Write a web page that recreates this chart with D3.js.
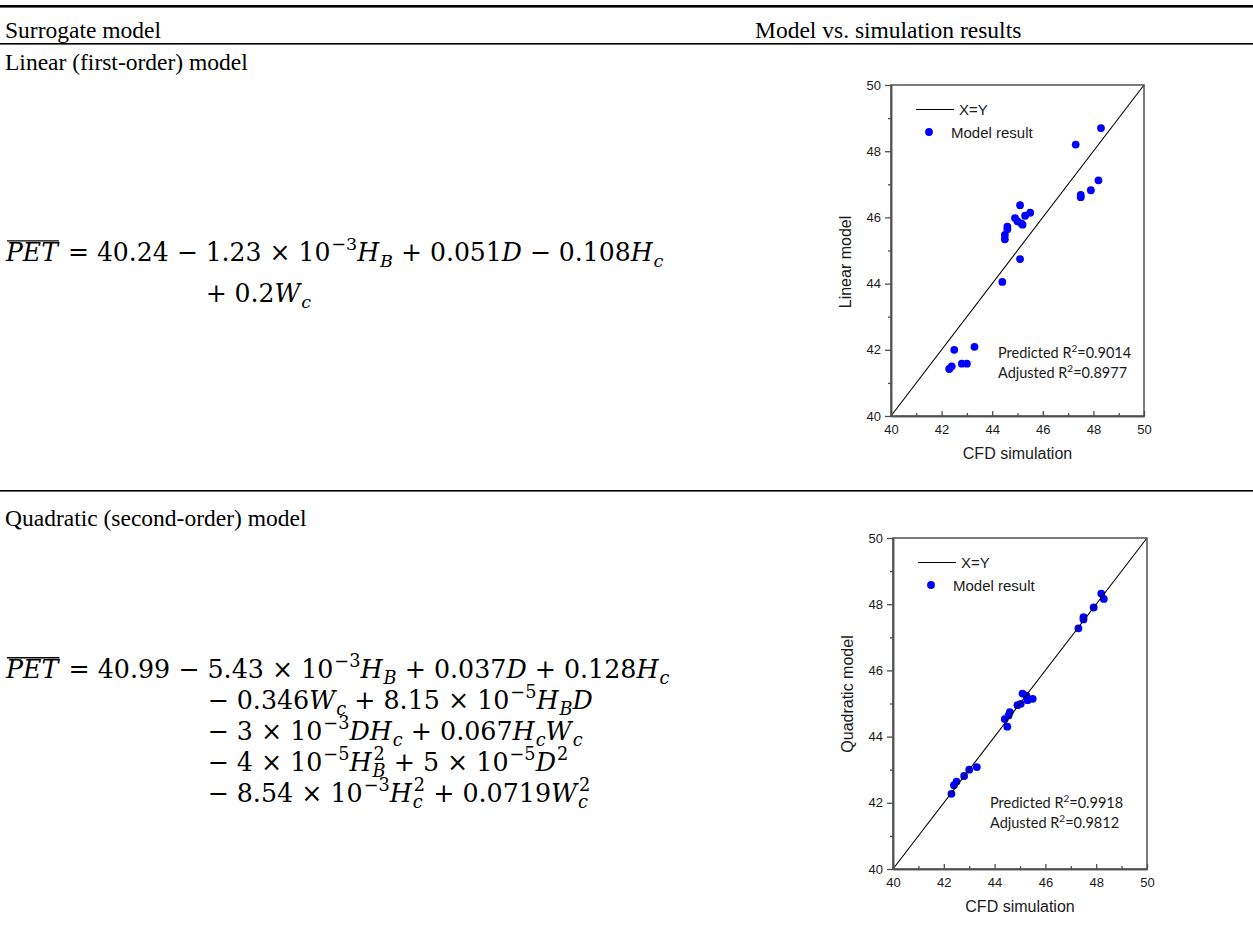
<!DOCTYPE html>
<html>
<head>
<meta charset="utf-8">
<script src="https://cdn.jsdelivr.net/npm/d3@7"></script>
<style>html,body{margin:0;padding:0;background:#fff} text{white-space:pre}</style>
</head>
<body>
<svg id="chart" width="1253" height="948"></svg>
<script>
// ---- data ----
const axisDomain = [40, 50];
const majorTicks = [40, 42, 44, 46, 48, 50];
const minorTicks = [41, 43, 45, 47, 49];

// linear (first-order) model vs CFD
const cfdLinear = [47.3, 48.3, 48.2, 47.9, 47.5, 47.5, 45.1, 45.5, 45.3, 44.9, 45.0, 45.15, 45.2, 44.6, 44.6, 44.5, 44.5, 45.1, 44.4, 43.3, 42.5, 42.8, 43.0, 42.4, 42.3];
const linearModel = [48.2, 48.7, 47.12, 46.82, 46.68, 46.61, 46.37, 46.14, 46.05, 45.98, 45.88, 45.82, 45.78, 45.72, 45.64, 45.47, 45.34, 44.74, 44.05, 42.09, 42.0, 41.58, 41.58, 41.5, 41.42];

// quadratic (second-order) model vs CFD
const cfdQuad = [48.2, 48.3, 47.9, 47.5, 47.5, 47.3, 45.1, 45.25, 45.3, 45.5, 44.9, 45.03, 44.6, 44.55, 44.4, 44.5, 43.3, 43.0, 42.8, 42.5, 42.4, 42.3];
const quadModel = [48.32, 48.16, 47.9, 47.61, 47.54, 47.27, 45.3, 45.24, 45.1, 45.14, 44.95, 44.99, 44.74, 44.64, 44.53, 44.3, 43.08, 43.0, 42.81, 42.64, 42.53, 42.27];

const r2Linear = ["0.9014", "0.8977"];
const r2Quad = ["0.9918", "0.9812"];

// equation terms: [text, kind, stackedSup]; kind "na" marks where wrapped lines align
const eqLinear = [
  [["PET", "bar"], [" = 40.24 − ", "n"], ["1.23 × 10", "na"], ["−3", "sup"], ["H", "i"], ["B", "sub"],
   [" + 0.051", "n"], ["D", "i"], [" − 0.108", "n"], ["H", "i"], ["c", "sub"]],
  [["+ 0.2", "n"], ["W", "i"], ["c", "sub"]]
];
const eqQuad = [
  [["PET", "bar"], [" = 40.99 − ", "n"], ["5.43 × 10", "na"], ["−3", "sup"], ["H", "i"], ["B", "sub"],
   [" + 0.037", "n"], ["D", "i"], [" + 0.128", "n"], ["H", "i"], ["c", "sub"]],
  [["− 0.346", "n"], ["W", "i"], ["c", "sub"], [" + 8.15 × 10", "n"], ["−5", "sup"], ["H", "i"], ["B", "sub"], ["D", "i"]],
  [["− 3 × 10", "n"], ["−3", "sup"], ["DH", "i"], ["c", "sub"], [" + 0.067", "n"], ["H", "i"], ["c", "sub"], ["W", "i"], ["c", "sub"]],
  [["− 4 × 10", "n"], ["−5", "sup"], ["H", "i"], ["B", "sub", "2"], [" + 5 × 10", "n"], ["−5", "sup"], ["D", "i"], ["2", "sup"]],
  [["− 8.54 × 10", "n"], ["−3", "sup"], ["H", "i"], ["c", "sub", "2"], [" + 0.0719", "n"], ["W", "i"], ["c", "sub", "2"]]
];

const svg = d3.select("#chart");
const W = +svg.attr("width");
const serif = "'Liberation Serif', 'Times New Roman', serif";
const mathFont = "'DejaVu Serif', serif";
const sans = "'Liberation Sans', Arial, sans-serif";

// table rules
svg.append("rect").attr("x", 0).attr("y", 5).attr("width", W).attr("height", 2.6).attr("fill", "#000");
svg.append("rect").attr("x", 0).attr("y", 43).attr("width", W).attr("height", 1.6).attr("fill", "#000");
svg.append("rect").attr("x", 0).attr("y", 490).attr("width", W).attr("height", 1.6).attr("fill", "#000");

// table text
const cell = (x, y, t) => svg.append("text").attr("x", x).attr("y", y)
  .attr("font-family", serif).attr("font-size", 23.5).attr("fill", "#000").text(t);
cell(5, 38, "Surrogate model");
cell(755, 38, "Model vs. simulation results");
cell(5, 70, "Linear (first-order) model");
cell(5, 526, "Quadratic (second-order) model");

// lay out an equation term by term so sub/superscripts can stack
function layEquation(g, lines, x0, y0, gap, fs) {
  let contX = x0, firstEnd = x0;
  lines.forEach((segs, li) => {
    let x = li === 0 ? x0 : contX;
    const y = y0 + li * gap;
    segs.forEach(([txt, kind, stacked]) => {
      if (kind === "na") contX = x;
      const italic = kind === "i" || kind === "sub" || kind === "bar";
      let size = fs, dy = 0, dx = 0;
      if (kind === "sub") { size = fs * 0.7; dy = fs * 0.22; dx = 1; }
      if (kind === "sup") { size = fs * 0.7; dy = -fs * 0.42; dx = 1; }
      const t = g.append("text").attr("x", x + dx).attr("y", y + dy)
        .attr("font-size", size).attr("font-style", italic ? "italic" : "normal").text(txt);
      let w = t.node().getComputedTextLength() + dx;
      if (stacked) {
        const s = g.append("text").attr("x", x + dx + 1).attr("y", y - fs * 0.42)
          .attr("font-size", fs * 0.7).text(stacked);
        w = Math.max(w, s.node().getComputedTextLength() + dx + 1);
      }
      if (kind === "bar") {
        g.append("line").attr("x1", x + 1).attr("x2", x + w + 1)
          .attr("y1", y - fs * 0.8).attr("y2", y - fs * 0.8)
          .attr("stroke", "#000").attr("stroke-width", 1.3);
        w += 2;
      }
      x += w;
    });
    if (li === 0) firstEnd = x;
  });
  return firstEnd;
}

// size the equation so its first line ends where the reference's does
function drawEquation(lines, x0, y0, gap, rightEdge) {
  const g = svg.append("g").attr("font-family", mathFont).attr("fill", "#000");
  const probe = layEquation(g, lines, x0, y0, gap, 24);
  g.selectAll("*").remove();
  const fs = 24 * (rightEdge - x0) / (probe - x0);
  layEquation(g, lines, x0, y0, gap, fs);
}

drawEquation(eqLinear, 6, 261, 41, 664);
drawEquation(eqQuad, 6, 678, 31, 670);

// one scatter panel: model vs CFD with the X=Y line
function drawPanel(cfg) {
  const x = d3.scaleLinear().domain(axisDomain).range([cfg.left, cfg.right]);
  const y = d3.scaleLinear().domain(axisDomain).range([cfg.bottom, cfg.top]);
  const g = svg.append("g").attr("font-family", sans);
  const axisColor = "#505050";

  // points
  g.append("g").selectAll("circle")
    .data(d3.zip(cfg.xs, cfg.ys))
    .join("circle")
    .attr("cx", d => x(d[0]))
    .attr("cy", d => y(d[1]))
    .attr("r", 3.9)
    .attr("fill", "#0000ff");

  // X=Y
  g.append("line")
    .attr("x1", x(axisDomain[0])).attr("y1", y(axisDomain[0]))
    .attr("x2", x(axisDomain[1])).attr("y2", y(axisDomain[1]))
    .attr("stroke", "#000").attr("stroke-width", 1.1);

  // frame
  g.append("rect")
    .attr("x", cfg.left).attr("y", cfg.top)
    .attr("width", cfg.right - cfg.left).attr("height", cfg.bottom - cfg.top)
    .attr("fill", "none").attr("stroke", axisColor).attr("stroke-width", 1.5);

  // y axis: ticks outward
  g.append("g").attr("transform", `translate(${cfg.left},0)`)
    .call(d3.axisLeft(y).tickValues(majorTicks).tickSize(6).tickSizeOuter(0).tickPadding(4).tickFormat(d3.format("d")));
  g.append("g").attr("transform", `translate(${cfg.left},0)`)
    .call(d3.axisLeft(y).tickValues(minorTicks).tickSize(3).tickSizeOuter(0).tickFormat(""));

  // x axis: ticks inward
  g.append("g").attr("transform", `translate(0,${cfg.bottom})`)
    .call(d3.axisBottom(x).tickValues(majorTicks).tickSize(-5).tickSizeOuter(0).tickPadding(9).tickFormat(d3.format("d")));
  g.append("g").attr("transform", `translate(0,${cfg.bottom})`)
    .call(d3.axisBottom(x).tickValues(minorTicks).tickSize(-3).tickSizeOuter(0).tickFormat(""));

  g.selectAll(".domain").attr("stroke", axisColor).attr("stroke-width", 1.5);
  g.selectAll(".tick line").attr("stroke", axisColor).attr("stroke-width", 1.3);
  g.selectAll(".tick text").attr("font-size", 13).attr("font-family", sans).attr("fill", "#1a1a1a");

  // axis titles
  g.append("text")
    .attr("x", (cfg.left + cfg.right) / 2).attr("y", cfg.bottom + 43)
    .attr("text-anchor", "middle").attr("font-size", 16).attr("fill", "#1a1a1a")
    .text("CFD simulation");
  g.append("text")
    .attr("transform", `translate(${cfg.left - 40},${cfg.yTitleMid}) rotate(-90)`)
    .attr("text-anchor", "middle").attr("font-size", 16).attr("fill", "#1a1a1a")
    .text(cfg.yTitle);

  // legend
  const lx = cfg.left + 25, ly = cfg.top + 24.5;
  g.append("line").attr("x1", lx).attr("x2", lx + 38).attr("y1", ly).attr("y2", ly)
    .attr("stroke", "#000").attr("stroke-width", 1.1);
  g.append("text").attr("x", lx + 43).attr("y", ly + 5.5).attr("font-size", 15).attr("fill", "#1a1a1a").text("X=Y");
  g.append("circle").attr("cx", lx + 13).attr("cy", ly + 22.5).attr("r", 3.9).attr("fill", "#0000ff");
  g.append("text").attr("x", lx + 35).attr("y", ly + 28).attr("font-size", 15).attr("fill", "#1a1a1a").text("Model result");

  // R² annotations
  ["Predicted", "Adjusted"].forEach((lab, i) => {
    const t = g.append("text")
      .attr("x", cfg.r2x).attr("y", cfg.r2y + i * 20)
      .attr("font-family", "Lato, 'Open Sans', sans-serif").attr("font-size", 14.5).attr("fill", "#1a1a1a");
    t.append("tspan").text(lab + " R");
    t.append("tspan").attr("dy", -6).attr("font-size", 10).text("2");
    t.append("tspan").attr("dy", 6).text("=" + cfg.r2[i]);
  });
}

drawPanel({
  left: 891, right: 1144, top: 85, bottom: 416,
  xs: cfdLinear, ys: linearModel,
  yTitle: "Linear model", yTitleMid: 262,
  r2: r2Linear, r2x: 998, r2y: 358
});
drawPanel({
  left: 893, right: 1147, top: 538, bottom: 869,
  xs: cfdQuad, ys: quadModel,
  yTitle: "Quadratic model", yTitleMid: 694,
  r2: r2Quad, r2x: 990, r2y: 808
});
</script>
</body>
</html>
